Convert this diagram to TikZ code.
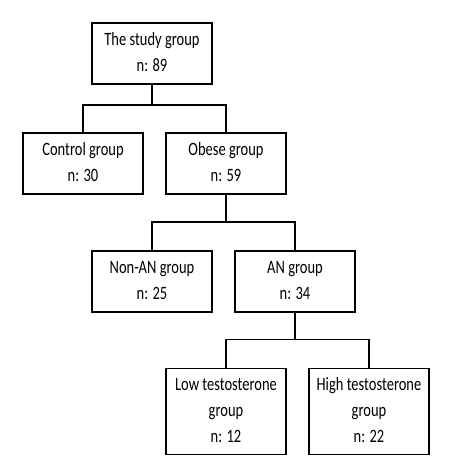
\documentclass[tikz,border=0pt]{standalone}
\usepackage{fontspec}
\setmainfont{Carlito}
\usetikzlibrary{positioning}

% taller lettering, as in the scanned chart
\newcommand{\grptext}[1]{\scalebox{1}[1.3]{\begin{tabular}{@{}c@{}}#1\end{tabular}}}

\begin{document}
\begin{tikzpicture}[
    box/.style={rectangle, draw=black, line width=1.8pt, fill=white, minimum width=120pt, minimum height=61pt, inner sep=2pt, align=center, font=\fontsize{14.5}{20}\selectfont},
    tallbox/.style={box, minimum height=86pt},
    link/.style={draw=black, line width=1.8pt}
]
\useasboundingbox (0,0) rectangle (450pt,-466pt);

\node[box] (study) at (152pt,-53.5pt) {\grptext{The study group \\ n: 89}};
\node[box, below=47pt of study, xshift=-69pt] (control) {\grptext{Control group \\ n: 30}};
\node[box, below=47pt of study, xshift=74pt] (obese) {\grptext{Obese group \\ n: 59}};
\node[box, below=55pt of obese, xshift=-74pt] (nonan) {\grptext{Non-AN group \\ n: 25}};
\node[box, below=55pt of obese, xshift=69pt] (an) {\grptext{AN group \\ n: 34}};
\node[tallbox, below=55pt of an, xshift=-69pt] (low) {\grptext{Low testosterone \\ group \\ n: 12}};
\node[tallbox, below=55pt of an, xshift=74pt] (high) {\grptext{High testosterone \\ group \\ n: 22}};

\draw[link] (study.south) -- ++(0,-20pt) -| (control.north);
\draw[link] (study.south) -- ++(0,-20pt) -| (obese.north);
\draw[link] (obese.south) -- ++(0,-27pt) -| (nonan.north);
\draw[link] (obese.south) -- ++(0,-27pt) -| (an.north);
\draw[link] (an.south) -- ++(0,-27pt) -| (low.north);
\draw[link] (an.south) -- ++(0,-27pt) -| (high.north);

\end{tikzpicture}
\end{document}
